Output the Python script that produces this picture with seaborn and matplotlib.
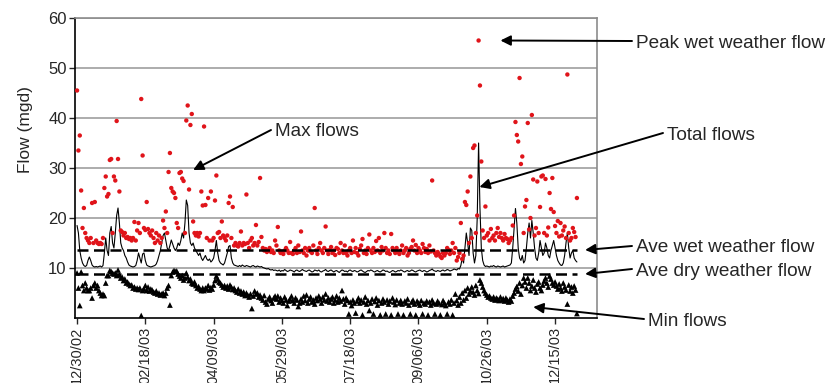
import matplotlib
matplotlib.use("Agg")
import matplotlib.pyplot as plt
import matplotlib.dates as mdates
import seaborn as sns
import pandas as pd

start_date = "2002-12-30"

# daily maximum flows (mgd)
max_flows = [
    45.5, 33.5, 36.5, 25.5, 18, 22, 17, 16, 15.5, 15, 16, 23, 15, 23.2, 15.5, 15, 14.8, 15, 14.8, 16,
    26, 28.3, 24.3, 24.8, 31.6, 31.8, 17, 28.3, 27.5, 39.4, 31.8, 25.3, 17.5, 17.2, 16.5, 17, 16, 16.2, 15.8, 16,
    15.5, 16, 19.2, 15.5, 17.5, 19, 17, 43.8, 32.5, 18, 17.6, 23.2, 17.8, 17, 16.5, 17.5, 16, 15, 17, 15.5,
    16.5, 15, 16, 19.5, 18, 21.3, 17, 29.2, 33, 26, 25.3, 25, 24, 19, 18, 29, 29.2, 27.9, 27.4, 17,
    39.5, 42.5, 25.7, 38.6, 40.8, 19.3, 17, 16.5, 17, 16.3, 17, 25.3, 22.5, 38.3, 22.6, 16, 24, 15.5, 25.3, 15.5,
    16, 23.5, 28.5, 17, 17.2, 16, 19.3, 16.5, 16, 15.5, 16.5, 23, 24.3, 16, 22.2, 14.5, 15, 14.5, 14.3, 15,
    17.3, 14.5, 15, 14.8, 24.7, 15, 14, 15.5, 16, 14.5, 15, 18.6, 14.5, 15.2, 28, 16.2, 14, 13.5, 13.8, 13.2,
    13.5, 14, 13.2, 13.5, 13, 15.5, 14.5, 18.2, 13.5, 13, 13.3, 12.8, 13.5, 14, 13.5, 13, 15.2, 13, 12.8, 13.5,
    14, 13, 14.5, 13.2, 17.3, 13.5, 13, 14, 12.5, 13.5, 14, 13.3, 13, 14.5, 22, 13.5, 12.8, 14, 15, 13.5,
    13, 14, 18.3, 13.5, 12.8, 13.6, 14.2, 13, 13.5, 12.6, 14, 13.8, 13, 15, 13.5, 13, 14.5, 13, 12.5, 13.5,
    14, 13, 15.5, 13.2, 14, 13, 12.5, 13.8, 14.5, 15.8, 13, 13.5, 12.8, 14, 16.7, 13.5, 13, 14, 13.2, 15.4,
    13.5, 16, 13, 14.2, 13.5, 17, 14, 13, 13.5, 12.8, 16.8, 14, 13.5, 13, 14, 13.2, 12.8, 13.5, 14.5, 13,
    13.5, 14, 12.5, 13, 13.8, 14.2, 15.5, 13.5, 14.6, 13, 14, 13.5, 13, 14.8, 14, 13.2, 13.8, 13, 14.5, 13.3,
    27.5, 13.5, 13, 12.5, 13.2, 12.8, 12.3, 12, 13, 12.5, 13, 14, 13.6, 12.8, 13.5, 15, 13, 14, 11.5, 12.2,
    13, 19, 11.8, 12.5, 23.2, 22.6, 25.3, 15, 28.3, 16, 34, 34.5, 17, 20.5, 55.5, 46.5, 31.3, 17.5, 16, 22.3,
    16.5, 17, 15.5, 17.8, 16, 16.5, 15.5, 17, 18, 16.2, 17, 16, 15.5, 16.8, 16, 15.8, 15, 15.5, 16, 18.5,
    20.5, 39.2, 36.6, 35.3, 48, 30.8, 32.3, 17, 22.3, 23.6, 39, 17.7, 20, 40.6, 27.7, 16.5, 18, 27.3, 17, 22.2,
    28.3, 28.5, 17, 27.8, 16.5, 18.1, 25, 21.8, 28, 21.2, 18.4, 17, 19.4, 16.3, 19, 16.5, 17.5, 18.3, 16, 48.7,
    17, 15.5, 16, 18, 17.2, 16.2, 24,
]

# daily total flows (mgd)
total_flows = [
    18.5, 17, 13.5, 12, 11, 10.5, 10.3, 10.5, 11.5, 12.2, 11.5, 10.6, 10.3, 10.2, 10.3, 10.2, 10.3, 10.4, 10.2, 10.5,
    13, 16, 13.5, 12.5, 17, 18.3, 15, 14, 17, 20.5, 22, 19, 15, 14, 13.5, 12.5, 12, 11.2, 10.6, 10.4,
    10.3, 10.2, 10.3, 10.5, 11.5, 13, 12, 11, 12.8, 13, 11.5, 10.6, 10.4, 10.3, 10.2, 10.3, 10.4, 10.5, 10.8, 11.5,
    12.5, 13.5, 15, 16.5, 17, 15.5, 14, 13.5, 14.5, 15.6, 14.8, 14, 13.5, 14, 15, 14.5, 15.5, 17, 16, 19,
    23.6, 22.5, 17, 15, 14.5, 15, 14, 13.5, 13, 12.5, 13, 12, 11.5, 12, 12.5, 11.8, 11.5, 11.8, 11.2, 11.5,
    12, 13.5, 15.5, 13, 11.5, 11, 10.8, 10.6, 11, 12, 13, 14.3, 14.5, 12, 11, 10.6, 10.5,
    10.4, 10.3, 10.5, 10.3, 10.6, 10.4, 10.3, 10.5, 10.4, 10.3, 10.2, 10.4, 10.5, 10.3, 10.2, 10.4, 10.3, 10.2,
    10.3, 10.1, 10.0, 9.9, 9.8, 9.9, 9.7, 9.6, 9.7, 9.5, 9.6,
    9.5, 9.4, 9.6, 9.3, 9.5, 9.4, 9.7, 9.5, 9.3, 9.4, 9.6, 9.5, 9.4, 9.2, 9.5, 9.6, 9.4, 9.3, 9.5, 9.7,
    9.5, 9.4, 9.3, 9.5, 9.6, 9.4, 9.2, 9.3, 9.6, 9.5, 9.4, 9.6, 9.3, 9.2, 9.4, 9.5, 9.7, 9.4, 9.3, 9.5,
    9.6, 9.4, 9.2, 9.4, 9.5, 9.3, 9.1, 9.4, 9.6, 9.5, 9.3, 9.4, 9.2, 9.5, 9.6, 9.4, 9.3, 9.5, 9.4, 9.2,
    9.3, 9.5, 9.6, 9.4, 9.2, 9.1, 9.3, 9.5, 9.4, 9.6, 9.5, 9.3, 9.2, 9.4, 9.5, 9.3, 9.2, 9.4, 9.6, 9.5,
    9.3, 9.4, 9.2, 9.1, 9.3, 9.5, 9.4, 9.2, 9.3, 9.5, 9.4, 9.6, 9.5, 9.3, 9.2, 9.4, 9.5, 9.3, 9.4, 9.6,
    9.5, 9.3, 9.2, 9.4, 9.5, 9.6, 9.4, 9.3, 9.5, 9.4, 9.2, 9.3, 9.5, 9.6, 9.8, 9.5, 9.4, 9.3, 9.5, 9.4,
    9.3, 9.5, 9.6, 9.4, 9.5, 9.7, 9.6, 9.4, 9.5, 9.6, 9.8, 9.7, 9.6, 9.9,
    9.8, 10.5, 12, 11, 14, 17, 15, 12.5, 18, 17.5, 13, 11, 12.5, 20, 35, 22, 14, 11.5, 10.6, 10.3,
    10.4, 10.3, 10.2, 10.4, 10.3, 10.5, 10.3, 10.2, 10.4, 10.3, 10.2, 10.3, 10.4, 10.2, 10.3, 10.4, 10.5, 10.6, 11, 14,
    18, 21.9, 19, 14, 12, 11.5, 12.5, 11, 11.5, 14, 17, 19, 16, 19.5, 17, 14, 12, 11.5, 13, 15.5,
    14, 12.5, 13, 15, 14, 12.5, 12, 13.5, 14.5, 15.5, 14, 12.5, 11.5, 11, 10.6, 10.5, 11, 12.5, 15, 17,
    14, 12, 13, 13.5, 12, 11.5, 11.2,
]

# daily minimum flows (mgd)
min_flows = [
    9, 6, 2.5, 9.2, 6.5, 5.5, 7, 6, 5.5, 5.5, 6, 4, 6.5, 7, 6, 6.5, 5.5, 5, 4.5, 4.8,
    4.5, 7, 8.5, 8.5, 9.5, 9.3, 9, 8.8, 9, 8.5, 9.6, 8.6, 8, 8.2, 7.5, 7.8, 7, 7.2, 6.8, 6.5,
    6.6, 6, 6.2, 5.8, 6, 5.7, 6, 0.5, 5.5, 5.8, 6.5, 5.5, 6.2, 5.4, 5.8, 5.6, 5.2, 5, 5.4, 4.8,
    5, 4.6, 4.8, 5, 4.5, 5, 6, 6.5, 2.6, 8.5, 9.2, 9.5, 9.3, 9.4, 8.8, 8.4, 8, 8.5, 7.6, 8,
    9, 8.2, 7.5, 7.8, 7, 6.8, 7.2, 6.5, 6, 6.3, 5.8, 5.5, 6, 5.5, 6, 5.8, 6.5, 5.6, 6.1, 5.8,
    6.6, 7.5, 8.4, 7.8, 7.2, 7, 6.6, 6.2, 6.5, 6, 6.4, 5.8, 6.6, 6.2, 5.7, 6, 5.5, 5.2, 5.8, 5,
    5.4, 4.8, 5.2, 4.5, 5, 4.6, 4.2, 4.8, 1.9, 4.4, 5.4, 4.8, 5, 4.2, 4.6, 4, 3.6, 4.5, 3.2, 2.8,
    3.8, 4.2, 3.5, 3, 4, 4.4, 3.8, 4.4, 3.2, 4, 3.5, 3, 4.2, 3.6, 2.5, 3.4, 3.8, 4.4, 3.5, 3,
    4, 3.6, 2.3, 3, 3.8, 3.2, 4.4, 3.5, 4.6, 3, 3.8, 4.2, 3.2, 3.6, 2.8, 4, 3.5, 4.4, 3.8, 3,
    4.2, 3.6, 4.8, 3.4, 4, 3.2, 3.8, 4.2, 3, 3.6, 4.4, 3.2, 4, 3.4, 5.5, 3.8, 2.8, 4, 3.5, 0.8,
    3.2, 2.5, 3.6, 3, 1, 3.4, 4, 3, 3.6, 0.6, 3.2, 4.2, 2.8, 3.5, 1.5, 3, 3.8, 0.8, 3.3, 4,
    2.6, 3.5, 0.6, 3, 3.8, 3.2, 0.8, 3.6, 2.8, 3.4, 0.6, 4, 3.2, 2.7, 3.6, 0.8, 3, 3.5, 2.8, 0.6,
    3.4, 3, 3.8, 2.6, 0.8, 3.2, 3.6, 2.8, 0.6, 3.4, 3, 2.6, 3.5, 0.8, 3, 2.8, 3.4, 0.6, 3.2, 2.6,
    3.6, 3, 0.8, 2.8, 3.4, 3, 0.6, 2.7, 3.5, 3, 2.5, 0.8, 3.2, 2.8, 3.6, 0.6, 3, 4.8, 3.5, 2.6,
    4.2, 3, 5, 3.6, 5.5, 4, 6, 4.8, 5.4, 6.2, 5.2, 4.6, 6.5, 5.5, 4.9, 7.6, 7, 6.2, 5.5, 5,
    4.6, 4.2, 4.4, 4, 3.8, 4.2, 3.6, 4, 3.8, 3.5, 4.2, 3.6, 3.9, 3.4, 4, 3.6, 3.2, 3.8, 3.4, 4.4,
    5, 5.8, 6.3, 5.4, 7, 4.8, 6.5, 8, 7.2, 6, 8, 7, 5.5, 6.4, 7.6, 6, 5.2, 6.8, 7.2, 6,
    5.5, 6.6, 7.4, 8, 7, 6.2, 8.4, 7.8, 7, 6.6, 7.2, 6.4, 5.8, 6.8, 6, 5.4, 7, 6.2, 5.6, 2.8,
    6.6, 5.4, 6.2, 5, 6.4, 5.6, 0.9,
]

ave_wet = 13.6
ave_dry = 8.8

tick_labels = ["12/30/02", "02/18/03", "04/09/03", "05/29/03",
               "07/18/03", "09/06/03", "10/26/03", "12/15/03"]

dates = pd.date_range(start_date, periods=len(max_flows), freq="D")
df = pd.DataFrame({"date": dates, "max": max_flows,
                   "total": total_flows, "min": min_flows})

sns.set_style("white")
plt.rcParams["font.family"] = ["Liberation Sans", "DejaVu Sans"]

W, H = 831, 383
fig = plt.figure(figsize=(W / 100, H / 100), dpi=100)
ax = fig.add_axes([75 / W, 1 - 318 / H, (597 - 75) / W, 300 / H])

# grid first so data sits on top
ax.set_ylim(0, 60)
ax.set_yticks([10, 20, 30, 40, 50, 60])
ax.yaxis.grid(True, color="#a6a6a6", lw=1.3)
ax.set_axisbelow(True)

sns.lineplot(data=df, x="date", y="total", color="black", lw=0.8, ax=ax)
sns.scatterplot(data=df, x="date", y="max", color="#e0141a", s=10,
                edgecolor="none", marker="o", ax=ax, zorder=3)
sns.scatterplot(data=df, x="date", y="min", color="black", s=17,
                edgecolor="none", marker="^", ax=ax, zorder=3)

ax.hlines([ave_wet, ave_dry], dates[0], dates[-1], colors="black",
          lw=1.8, linestyles=(0, (4.4, 2.2)), zorder=4)

ax.set_xlim(dates[0] - pd.Timedelta(days=1.5), dates[0] + pd.Timedelta(days=380.7))
ticks = pd.to_datetime(tick_labels, format="%m/%d/%y")
ax.set_xticks(ticks)
ax.xaxis.set_major_formatter(mdates.DateFormatter("%m/%d/%y"))
ax.tick_params(axis="x", rotation=90, labelsize=10.5, length=4, width=1,
               direction="out", bottom=True, pad=2)
ax.tick_params(axis="y", labelsize=12, length=4, width=1,
               direction="out", left=True, pad=2)

for side in ["left", "bottom"]:
    ax.spines[side].set_color("black")
    ax.spines[side].set_linewidth(1.2)
for side in ["top", "right"]:
    ax.spines[side].set_color("#8c8c8c")
    ax.spines[side].set_linewidth(1.2)

ax.set_xlabel("")
ax.set_ylabel("Flow (mgd)", fontsize=12.5)
ax.yaxis.set_label_coords(-0.08, 0.627)


def fig_px(x, y):
    return (x / W, 1 - y / H)


day = lambda d: dates[0] + pd.Timedelta(days=d)
arrow = dict(arrowstyle="-|>", color="black", lw=1.4, mutation_scale=15,
             shrinkA=0, shrinkB=0)

notes = [
    ("Peak wet weather flow", (636, 43), (310, 55.5)),
    ("Total flows", (667, 135), (294.6, 26.2)),
    ("Max flows", (275, 132), (85, 29.6)),
    ("Ave wet weather flow", (636, 248), (372, ave_wet)),
    ("Ave dry weather flow", (636, 271), (372, ave_dry)),
    ("Min flows", (648, 321), (334, 2.2)),
]
for label, (tx, ty), (hx, hy) in notes:
    ax.annotate("", xy=(day(hx), hy), xycoords="data",
                xytext=fig_px(tx - 4, ty - 2), textcoords="figure fraction",
                arrowprops=arrow, annotation_clip=False)
    fig.text(tx / W, 1 - ty / H, label, fontsize=13.7, ha="left", va="center")

fig.savefig("out.png", dpi=100)
